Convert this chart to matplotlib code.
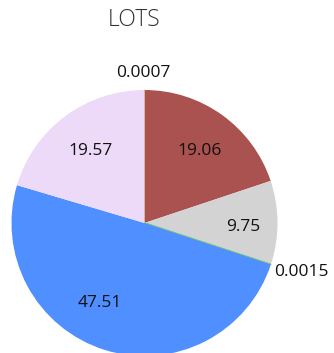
import numpy as np
import matplotlib
matplotlib.use("Agg")
import matplotlib.pyplot as plt

# Slice values, clockwise from 12 o'clock
values = [0.0007, 19.06, 9.75, 0.0015, 47.51, 19.57]
labels = ["0.0007", "19.06", "9.75", "0.0015", "47.51", "19.57"]
colors = ["#F2D21B", "#AA524F", "#D3D3D3", "#7FC97F", "#4F8FFF", "#ECDAF8"]

fig = plt.figure(figsize=(3.34, 3.53), dpi=100)
W, H = 334, 353
cx, cy, r = 144.5, 223, 133
ax = fig.add_axes([(cx - r) / W, (H - cy - r) / H, 2 * r / W, 2 * r / H])

wedges, _ = ax.pie(values, colors=colors, startangle=90, counterclock=False,
                   radius=1, center=(0, 0), frame=False)
for w, v in zip(wedges, values):
    if v < 0.01:
        w.set_edgecolor(w.get_facecolor())
        w.set_linewidth(1.0)
    else:
        w.set_linewidth(0)
ax.set_xlim(-1, 1)
ax.set_ylim(-1, 1)
ax.set_aspect("equal")
ax.axis("off")

# label placement: (distance from centre, angular nudge in degrees, alignment)
place = [(1.14, -0.3, "center"), (0.69, 1, "center"), (0.74, 1.5, "center"),
         (1.035, 2, "left"), (0.68, 12.5, "center"), (0.69, 1, "center")]
total = sum(values)
start = 0.0
for v, lab, (d, nudge, ha) in zip(values, labels, place):
    mid = (start + v / 2) / total * 360 + nudge   # clockwise from top
    start += v
    th = np.deg2rad(mid)
    x, y = d * np.sin(th), d * np.cos(th)
    ax.text(x, y, lab, ha=ha, va="center_baseline", fontsize=12.5,
            family="Open Sans", color="#111111", clip_on=False)

fig.text(134.5 / W, 1 - 20 / H, "LOTS", ha="center", va="center",
         fontsize=16.5, family="Open Sans", fontweight="light", color="#333333")

fig.savefig("out.png", dpi=100)
